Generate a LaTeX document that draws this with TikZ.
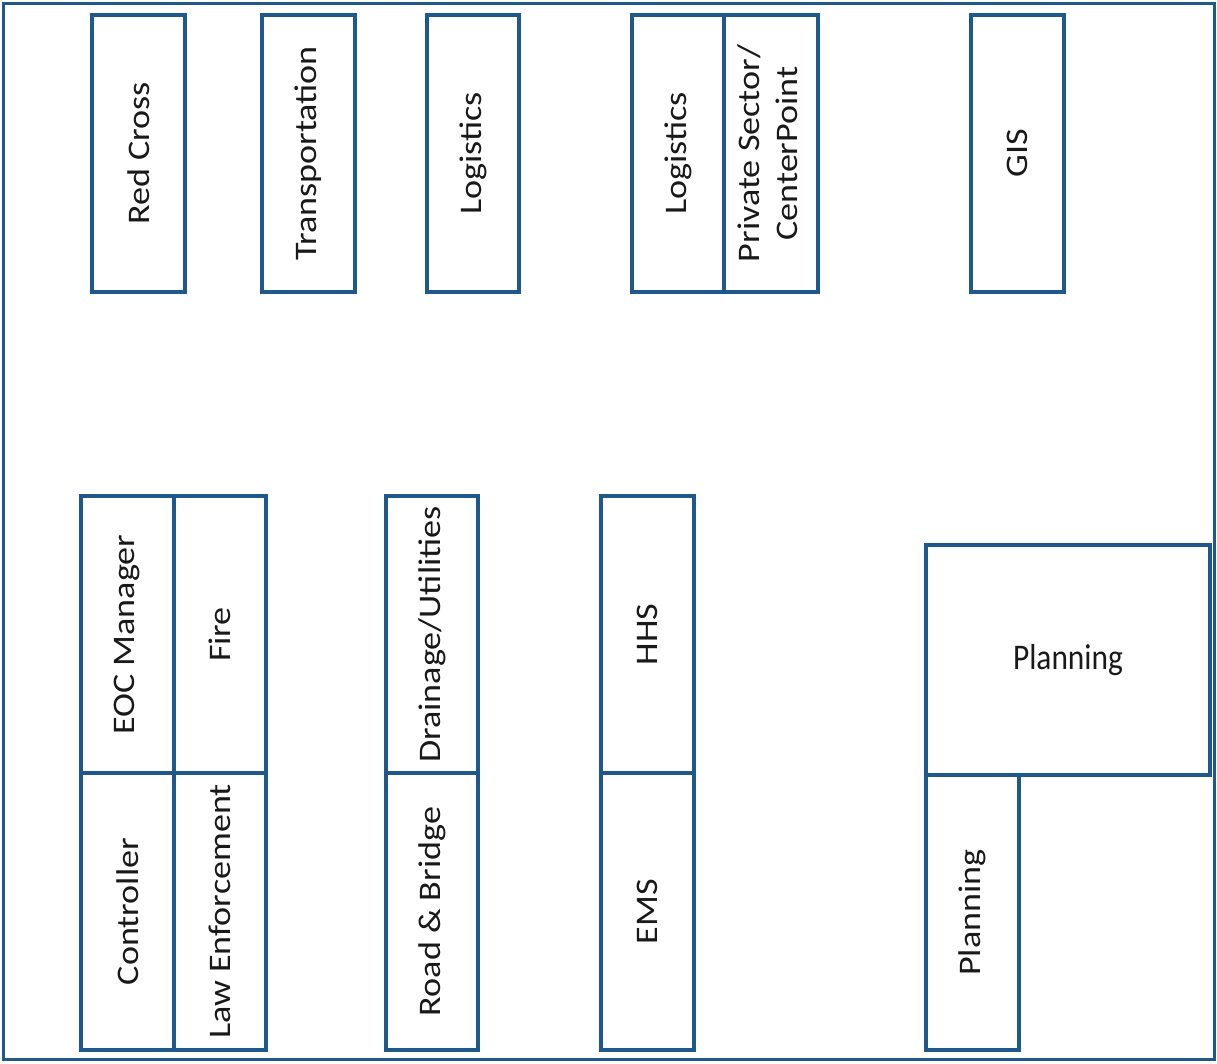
\documentclass[tikz,border=0pt]{standalone}
\usepackage{fontspec}
\setmainfont{Carlito}
\usepackage{graphicx}
\definecolor{boxblue}{RGB}{31,88,140}
\definecolor{txt}{RGB}{25,25,25}
\newcommand\vtxt[1]{\rotatebox{90}{\scalebox{1.15}[1]{#1}}}
\begin{document}
\begin{tikzpicture}[x=1pt,y=-1pt,
  cell/.style={draw=boxblue, line width=3.5pt, fill=white, rectangle,
    inner sep=0pt, outer sep=0pt, anchor=north west, text=txt,
    font=\fontsize{31.4}{38}\selectfont},
  tall/.style={cell, minimum width=93pt, minimum height=277pt},
  frame/.style={draw=boxblue, line width=3pt}]
\useasboundingbox[fill=white] (0,0) rectangle (1217,1063);
\draw[frame] (3,3) rectangle (1214,1059);
% top row
\node[tall] (redcross) at (92,15) {\vtxt{Red Cross}};
\node[tall] (transport) at (262,15) {\vtxt{Transportation}};
\node[tall, minimum width=92pt] (logi1) at (427,15) {\vtxt{Logistics}};
\node[tall, minimum width=92pt] (logi2) at (632,15) {\vtxt{Logistics}};
\node[tall, minimum width=94pt] (private) at (724,15) {\rotatebox{90}{\scalebox{1.15}[1]{\begin{tabular}{@{}c@{}}Private Sector/\\CenterPoint\end{tabular}}}};
\node[tall] (gis) at (971,15) {\vtxt{GIS}};
% bottom groups
\node[tall] (eoc) at (81,496) {\vtxt{EOC Manager}};
\node[tall, minimum width=92pt] (fire) at (174,496) {\vtxt{Fire}};
\node[tall] (controller) at (81,773) {\vtxt{Controller}};
\node[tall, minimum width=92pt] (law) at (174,773) {\vtxt{Law Enforcement}};
\node[tall, minimum width=92pt] (drainage) at (386,496) {\vtxt{Drainage/Utilities}};
\node[tall, minimum width=92pt] (road) at (386,773) {\vtxt{Road \& Bridge}};
\node[tall] (hhs) at (601,496) {\vtxt{HHS}};
\node[tall] (ems) at (601,773) {\vtxt{EMS}};
\node[cell, minimum width=284pt, minimum height=230pt] (planbig) at (926,545) {\scalebox{1}[1.15]{Planning}};
\node[tall, minimum height=275pt] (plansmall) at (926,775) {\vtxt{Planning}};
\end{tikzpicture}
\end{document}
